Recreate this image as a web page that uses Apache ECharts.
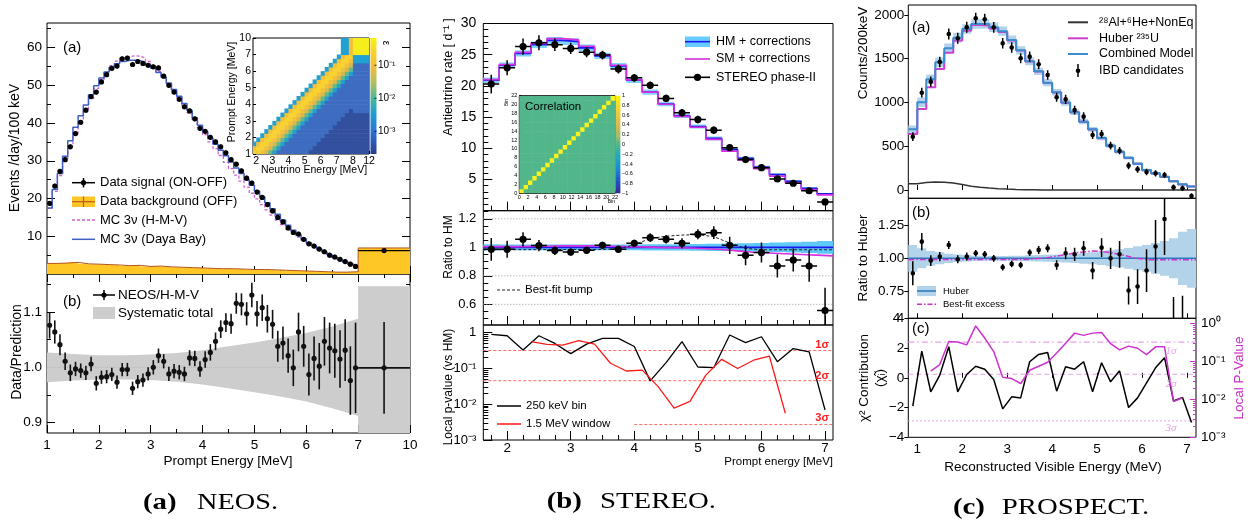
<!DOCTYPE html>
<html><head><meta charset="utf-8"><title>Reactor antineutrino spectra</title>
<script src="https://cdn.jsdelivr.net/npm/echarts@6.0.0/dist/echarts.min.js"></script>
<style>html,body{margin:0;padding:0;background:#fff;}#chart{width:1250px;height:528px;}</style>
</head><body><div id="chart"></div>
<script>
const SANS = '"Liberation Sans", Arial, Helvetica, sans-serif';
const SERIF = '"Liberation Serif", "DejaVu Serif", Times, serif';

/* ======================= NEOS ======================= */
const neosE = [1.05,1.15,1.25,1.35,1.45,1.55,1.65,1.75,1.85,1.95,2.05,2.15,2.25,2.35,2.45,2.55,2.65,2.75,2.85,2.95,3.05,3.15,3.25,3.35,3.45,3.55,3.65,3.75,3.85,3.95,4.05,4.15,4.25,4.35,4.45,4.55,4.65,4.75,4.85,4.95,5.05,5.15,5.25,5.35,5.45,5.55,5.65,5.75,5.85,5.95,6.05,6.15,6.25,6.35,6.45,6.55,6.65,6.75,6.85,6.95];
const neosBinHalf = 0.05;
const neosSignal = [18.7,23.3,27.2,30.3,33.7,37.2,40.2,43.4,47.0,48.2,50.9,52.8,54.5,55.1,57.0,57.2,55.5,56.3,55.8,55.3,54.9,54.6,52.4,50.0,48.2,46.3,44.3,43.2,41.1,38.6,37.8,36.2,35.0,33.7,32.1,30.3,29.1,27.3,25.4,24.1,21.7,20.3,18.4,16.7,15.0,13.8,12.2,11.0,10.6,9.2,8.0,7.4,6.6,5.9,5.0,4.5,3.9,3.3,2.6,2.0];
const neosSigErr = 0.6;
const neosHMV = [17.4,21.9,26.1,30.0,33.8,37.3,40.5,43.6,46.5,49.2,51.5,53.5,55.2,56.4,57.2,57.6,57.8,57.7,57.2,56.3,55.1,53.7,52.1,50.4,48.6,46.7,44.7,42.7,40.7,38.8,36.9,35.0,33.2,31.4,29.6,27.9,26.2,24.6,23.0,21.4,19.9,18.4,17.0,15.6,14.3,13.1,11.9,10.8,9.8,8.9,8.0,7.2,6.4,5.7,5.0,4.4,3.8,3.2,2.7,2.1];
const neosDayaBay = [17.5,22.4,26.6,31.2,35.3,38.9,41.9,44.8,47.5,49.9,51.9,53.5,54.8,55.7,56.3,56.6,56.6,56.5,56.0,55.3,54.5,53.4,52.1,50.6,48.9,47.1,45.2,43.3,41.4,39.4,37.7,36.0,34.4,32.8,31.3,29.7,28.1,26.6,25.0,23.5,22.0,20.4,18.9,17.3,15.8,14.3,12.9,11.6,10.4,9.3,8.3,7.4,6.6,5.8,5.1,4.4,3.8,3.2,2.6,2.1];
const neosBkgEdges = [1.0,1.2,1.4,1.6,1.8,2.0,2.2,2.4,2.6,2.8,3.0,3.2,3.4,3.6,3.8,4.0,4.2,4.4,4.6,4.8,5.0,5.2,5.4,5.6,5.8,6.0,6.2,6.4,6.6,6.8,7.0,10.0];
const neosBkg = [2.8,2.9,3.1,2.7,2.6,2.5,2.4,2.2,2.3,2.0,2.1,1.9,1.8,1.7,1.6,1.5,1.4,1.4,1.3,1.2,1.2,1.1,1.0,0.9,0.8,0.7,0.6,0.5,0.5,0.6,6.9];
const neosLastBin = [7.0, 10.0];
const neosLastSignal = 6.2, neosLastSignalErr = 0.3;
const neosRatio = [1.076,1.064,1.041,1.011,0.990,0.997,0.994,0.990,1.006,0.971,0.982,0.983,0.987,0.973,0.996,0.996,0.962,0.974,0.977,0.988,1.000,1.021,1.011,0.988,0.993,0.991,0.988,1.017,1.016,0.997,1.014,1.027,1.047,1.069,1.081,1.079,1.116,1.114,1.097,1.131,1.097,1.108,1.088,1.078,1.038,1.044,1.021,0.999,1.064,1.038,0.987,1.016,1.002,1.047,1.035,1.030,1.015,1.031,0.976,0.999];
const neosRatioErr = [0.024,0.021,0.019,0.016,0.015,0.013,0.013,0.013,0.013,0.013,0.012,0.012,0.012,0.012,0.012,0.012,0.012,0.012,0.012,0.012,0.013,0.013,0.013,0.013,0.013,0.013,0.013,0.014,0.014,0.014,0.015,0.015,0.016,0.016,0.017,0.018,0.019,0.020,0.021,0.022,0.023,0.024,0.025,0.026,0.028,0.030,0.031,0.033,0.035,0.037,0.038,0.040,0.042,0.044,0.046,0.049,0.052,0.056,0.062,0.082];
const neosLastRatio = 0.999, neosLastRatioErr = 0.083;
const neosSysE = [1.0,1.5,2.0,2.5,3.0,3.5,4.0,4.5,5.0,5.5,6.0,6.5,7.0];
const neosSysHalf = [0.027,0.024,0.022,0.022,0.023,0.026,0.031,0.038,0.045,0.053,0.062,0.074,0.088];
const neosLastSys = [0.853, 1.147];
const neosXTicks = [1,2,3,4,5,6,7,10];
const neosYTicks = [10,20,30,40,50,60];
const neosRatioTicks = [0.9,1.0,1.1];
// inset: detector response (efficiency level code per cell, rows bottom->top)
const neosRespX = [1.75,2.0,2.25,2.5,2.75,3.0,3.25,3.5,3.75,4.0,4.25,4.5,4.75,5.0,5.25,5.5,5.75,6.0,6.25,6.5,6.75,7.0,7.25,7.5,7.75,8.0,12.0];
const neosRespY = [1.0,1.25,1.5,1.75,2.0,2.25,2.5,2.75,3.0,3.25,3.5,3.75,4.0,4.25,4.5,4.75,5.0,5.25,5.5,5.75,6.0,6.25,6.5,6.75,7.0,10.0];
const neosRespRows = [
"77654322222222111111111111",
"67765432222222211111111111",
"36776543222222221111111111",
"03677654322222222111111111",
"00367765432222222211111111",
"00036776543222222221111111",
"00003677654322222222111111",
"00000367765432222222211111",
"00000036776543222222221111",
"00000003677654322222222111",
"00000000367765432222222212",
"00000000036776543222222222",
"00000000003677654322222222",
"00000000000367765432222222",
"00000000000036776543222222",
"00000000000003677654322222",
"00000000000000367765432222",
"00000000000000036776543222",
"00000000000000003677654322",
"00000000000000000367765432",
"00000000000000000036776542",
"00000000000000000003677652",
"00000000000000000000367763",
"00000000000000000000036773",
"00000000000000000000003368"];
const neosRespXTicks = [2,3,4,5,6,7,8,12];
const neosRespYTicks = [1,2,3,4,5,6,7,10];
const neosEffLabels = ['10\u207B\u00B9','10\u207B\u00B2','10\u207B\u00B3'];

/* ======================= STEREO ======================= */
const stE = [1.75,2.0,2.25,2.5,2.75,3.0,3.25,3.5,3.75,4.0,4.25,4.5,4.75,5.0,5.25,5.5,5.75,6.0,6.25,6.5,6.75,7.0];
const stBinHalf = 0.125;
const stData = [20.3,22.9,26.3,26.9,26.6,26.0,25.4,24.95,22.7,21.3,20.1,18.0,15.7,14.6,12.9,10.1,8.2,6.9,5.1,4.4,3.2,1.4];
const stErr = [1.5,1.2,1.3,1.2,1.0,0.9,0.8,0.7,0.7,0.6,0.6,0.6,0.6,0.6,0.6,0.5,0.5,0.4,0.35,0.35,0.3,0.25];
const stHM = [20.9,23.3,25.2,26.6,27.3,27.1,26.1,24.8,23.2,20.9,19.0,17.1,15.2,13.5,11.6,9.8,8.4,7.0,5.8,4.7,3.6,2.7];
const stHMRel = [0.022,0.02,0.02,0.02,0.02,0.02,0.02,0.02,0.02,0.02,0.022,0.022,0.022,0.024,0.025,0.026,0.028,0.03,0.033,0.036,0.04,0.045];
const stSMRatio = [1.005,1.005,1.007,1.008,1.01,1.01,1.01,1.008,1.005,1.003,1.0,0.998,0.995,0.99,0.985,0.975,0.965,0.96,0.955,0.95,0.945,0.94];
const stRatio = [0.986,0.986,1.056,1.012,0.977,0.967,0.979,1.014,0.986,1.028,1.068,1.056,1.028,1.091,1.103,1.014,0.944,0.963,0.869,0.911,0.869,0.556];
const stRatioErr = [0.08,0.06,0.05,0.04,0.03,0.025,0.025,0.025,0.025,0.025,0.03,0.03,0.035,0.035,0.045,0.06,0.07,0.07,0.08,0.08,0.11,0.16];
const stBumpE = [1.625,3.5,3.75,4.0,4.25,4.5,4.75,5.0,5.25,5.5,5.75,6.0,7.125];
const stBumpV = [0.983,0.985,0.99,1.018,1.062,1.078,1.086,1.089,1.075,1.03,0.992,0.983,0.983];
const stPval = [0.90,0.82,0.33,0.82,0.50,0.26,0.48,0.69,0.69,0.41,0.045,0.145,0.56,0.11,0.105,0.86,0.53,0.77,0.155,0.36,0.29,0.0069];
const stWinE = [2.375,2.625,2.875,3.125,3.375,3.625,3.875,4.125,4.375,4.625,4.875,5.125,5.375,5.625,5.875,6.125,6.375];
const stWinP = [0.56,0.47,0.45,0.60,0.48,0.14,0.085,0.09,0.031,0.0078,0.012,0.065,0.18,0.10,0.17,0.22,0.0056];
const stSigmaP = [0.3173,0.0455,0.0027];
const stSigmaStart = [1.625,1.625,4.0];
const stSigmaLabels = ['1\u03C3','2\u03C3','3\u03C3'];
const stXTicks = [2,3,4,5,6,7];
const stYTicks = [5,10,15,20,25,30];
const stRatioTicks = [0.6,0.8,1.0,1.2];
const stPTicks = [0.001,0.01,0.1,1];
const stCorrDiag = [1,1,1,1,1,1,1,1,1,1,1,1,1,1,1,1,1,1,1,1,1,1];
const stCorrOff = 0.0;
const stCorrTicks = [0,2,4,6,8,10,12,14,16,18,20,22];
const stCorrBarLabels = ['1','0.8','0.6','0.4','0.2','0','\u22120.2','\u22120.4','\u22120.6','\u22120.8','\u22121'];

/* ======================= PROSPECT ======================= */
const prE = [0.9,1.1,1.3,1.5,1.7,1.9,2.1,2.3,2.5,2.7,2.9,3.1,3.3,3.5,3.7,3.9,4.1,4.3,4.5,4.7,4.9,5.1,5.3,5.5,5.7,5.9,6.1,6.3,6.5,6.7,6.9,7.1];
const prBinHalf = 0.1;
const prData = [609,1112,1238,1463,1783,1734,1859,1962,1951,1859,1676,1627,1505,1524,1436,1314,1059,1036,914,838,629,640,506,449,278,236,206,190,171,30,19,-69];
const prErr = [50,55,58,60,62,62,63,63,63,62,60,60,58,58,57,55,52,52,50,49,46,46,44,42,40,38,37,36,35,32,32,32];
const prComb = [693,1002,1265,1459,1619,1741,1840,1897,1897,1860,1815,1715,1596,1470,1356,1225,1116,999,888,781,693,593,506,436,367,300,227,190,150,100,65,40];
const prCombBand = [45,55,55,55,55,55,55,55,55,55,52,50,48,45,42,40,37,35,32,30,28,26,24,22,20,18,16,15,14,12,10,10];
const prHuber = [640,926,1174,1383,1569,1707,1821,1886,1880,1845,1805,1709,1593,1468,1355,1224,1115,998,887,780,692,592,505,435,366,299,226,189,149,99,64,39];
const prBkg = [70,85,90,88,80,62,42,30,22,15,10,6,3,2,1,1,0,0,0,0,0,0,0,0,0,0,0,0,0,0,0,0];
const prRatio = [0.888,1.125,0.983,1.013,1.100,0.993,1.013,1.038,1.030,1.000,0.933,0.958,0.950,1.043,1.063,1.075,0.950,1.038,1.030,1.075,0.908,1.080,1.000,1.030,0.758,0.788,0.908,1.088,1.295,0.20,0.10,-0.50];
const prRatioErr = [0.09,0.065,0.04,0.035,0.03,0.03,0.03,0.025,0.025,0.025,0.025,0.025,0.025,0.025,0.03,0.03,0.035,0.045,0.05,0.055,0.065,0.07,0.08,0.1,0.105,0.13,0.16,0.2,0.27,0.51,0.62,0.9];
const prHuberBand = [0.10,0.075,0.055,0.045,0.035,0.028,0.024,0.02,0.018,0.018,0.018,0.019,0.02,0.022,0.024,0.026,0.028,0.032,0.035,0.04,0.045,0.05,0.06,0.068,0.078,0.09,0.10,0.115,0.13,0.15,0.2,0.22];
const prExE = [0.8,3.5,3.9,4.2,4.5,4.9,5.2,5.5,5.8,6.1,7.2];
const prExV = [0.99,0.992,1.005,1.022,1.04,1.055,1.048,1.03,1.005,0.99,0.99];
const prChi = [-1.9,1.79,-0.94,0.18,2.09,-0.94,0.22,0.78,0.58,-0.11,-2.09,-1.28,-1.35,1.08,1.57,1.70,-0.9,0.74,0.58,1.08,-0.94,1.01,-0.27,0.47,-2.0,-1.35,-0.34,0.67,1.35,-1.55,-1.32,-3.0];
const prPE = [1.3,1.5,1.7,1.9,2.1,2.3,2.5,2.7,2.9,3.1,3.3,3.5,3.7,3.9,4.1,4.3,4.5,4.7,4.9,5.1,5.3,5.5,5.7,5.9,6.1,6.3,6.5,6.7,6.9];
const prP = [0.055,0.082,0.33,0.32,0.27,0.85,0.41,0.18,0.038,0.035,0.026,0.058,0.074,0.094,0.165,0.30,0.55,0.48,0.55,0.57,0.29,0.20,0.25,0.22,0.15,0.24,0.24,0.0087,0.011];
const prSigmaP = [0.3173,0.0455,0.0027];
const prSigmaLabels = ['1\u03C3','2\u03C3','3\u03C3'];
const prXTicks = [1,2,3,4,5,6,7];
const prYTicks = [0,500,1000,1500,2000];
const prRatioTicks = [0.75,1.0,1.25];
const prChiTicks = [-4,-2,0,2,4];
const prPTicks = [0.001,0.01,0.1,1];

/* ======================= helpers ======================= */
const SUP = {'-':'\u207B','0':'\u2070','1':'\u00B9','2':'\u00B2','3':'\u00B3'};
const sup = n => String(n).split('').map(c => SUP[c]).join('');
const neosX = e => e <= 7 ? e : 7 + (e - 7) / 3;
const insX = e => e <= 8 ? e : 8 + (e - 8) / 4;
const insY = e => e <= 7 ? e : 7 + (e - 7) / 3;
function rng(a, b, s) { const o = []; const n = Math.round((b - a) / s); for (let i = 0; i <= n; i++) o.push(+(a + i * s).toFixed(4)); return o; }
const notIn = maj => v => !maj.some(m => Math.abs(m - v) < 1e-6);
function logMinor(lo, hi) { const o = []; for (let d = -3; d <= 0; d++) for (let m = 2; m <= 9; m++) { const v = +(m * Math.pow(10, d)).toPrecision(3); if (v > lo && v < hi) o.push(v); } return o; }
function lookupFmt(disp, lab) { return v => { const i = disp.findIndex(d => Math.abs(d - v) < 1e-6); return i >= 0 ? String(lab[i]) : ''; }; }
const edgesOf = (cent, h) => cent.map(c => +(c - h).toFixed(4)).concat([+(cent[cent.length - 1] + h).toFixed(4)]);
function stepData(edges, vals) { const d = vals.map((v, i) => [edges[i], v]); d.push([edges[vals.length], vals[vals.length - 1]]); return d; }
function stepBand(edges, lo, hi) { const xs = [], l = [], h = []; for (let i = 0; i < lo.length; i++) { xs.push(edges[i], edges[i + 1]); l.push(lo[i], lo[i]); h.push(hi[i], hi[i]); } return [xs, l, h]; }

const grids = [], xAxes = [], yAxes = [], S = [], G = [];
function grid(l, t, w, h, bg) { grids.push({ left: l, top: t, width: w, height: h, show: true, borderColor: '#000', borderWidth: 1, backgroundColor: bg || 'transparent', containLabel: false }); return grids.length - 1; }
function ax(list, o) {
  const a = { type: o.type || 'value', gridIndex: o.grid, min: o.min, max: o.max, position: o.pos, scale: true,
    axisLine: { show: false }, splitLine: { show: false },
    axisTick: { show: !!o.ticks, inside: !o.out, length: o.len || 7, lineStyle: { color: o.tc || '#000', width: 1 } },
    axisLabel: { show: !!o.labels, color: o.lc || '#000', fontSize: o.fs || 13, fontFamily: SANS, margin: o.margin == null ? 6 : o.margin,
      showMinLabel: true, showMaxLabel: true, hideOverlap: false, formatter: o.fmt || (v => String(v)) } };
  if (o.ticks) a.axisTick.customValues = o.ticks;
  if (o.labels) a.axisLabel.customValues = o.labels;
  if (o.type === 'log') a.logBase = 10;
  list.push(a); return list.length - 1;
}
function line(xi, yi, data, color, w, type, step, z) {
  const s = { type: 'line', xAxisIndex: xi, yAxisIndex: yi, data, symbol: 'none', showSymbol: false, silent: true, animation: false, clip: true, z: z || 3,
    lineStyle: { color, width: w, type: type || 'solid' } };
  if (step) s.step = 'end';
  return s;
}
function poly(xi, yi, xs, lo, hi, fill, z) {
  return { type: 'custom', xAxisIndex: xi, yAxisIndex: yi, clip: true, silent: true, animation: false, z: z || 1,
    data: [[xs[0], hi[0]]],
    renderItem: (p, api) => { const pts = []; for (let i = 0; i < xs.length; i++) pts.push(api.coord([xs[i], hi[i]])); for (let i = xs.length - 1; i >= 0; i--) pts.push(api.coord([xs[i], lo[i]])); return { type: 'polygon', shape: { points: pts }, style: { fill } }; } };
}
function errS(xi, yi, pts, o) {
  return { type: 'custom', xAxisIndex: xi, yAxisIndex: yi, clip: true, silent: true, animation: false, z: 6, data: pts,
    renderItem: (p, api) => {
      const x = api.value(0), y = api.value(1), ey = api.value(2), ex = api.value(3);
      const c = api.coord([x, y]); const ch = [];
      if (ey > 0) { const t = api.coord([x, y + ey]), b = api.coord([x, y - ey]); ch.push({ type: 'line', shape: { x1: c[0], y1: t[1], x2: c[0], y2: b[1] }, style: { stroke: o.color, lineWidth: o.lw } }); }
      if (ex > 0) { const l = api.coord([x - ex, y]), r = api.coord([x + ex, y]); ch.push({ type: 'line', shape: { x1: l[0], y1: c[1], x2: r[0], y2: c[1] }, style: { stroke: o.color, lineWidth: o.lw } }); }
      ch.push({ type: 'circle', shape: { cx: c[0], cy: c[1], r: o.r }, style: { fill: o.color } });
      return { type: 'group', children: ch };
    } };
}
function cells(xi, yi, data, colorOf) {
  return { type: 'custom', xAxisIndex: xi, yAxisIndex: yi, clip: true, silent: true, animation: false, z: 2, data,
    renderItem: (p, api) => { const a = api.coord([api.value(0), api.value(3)]), b = api.coord([api.value(1), api.value(2)]);
      return { type: 'rect', shape: { x: a[0], y: a[1], width: b[0] - a[0] + 0.5, height: b[1] - a[1] + 0.5 }, style: { fill: colorOf(api.value(4)) } }; } };
}
function T(x, y, text, o = {}) {
  G.push({ type: 'text', x, y, rotation: o.rot || 0, scaleX: o.sx || 1, z: 60, silent: true,
    style: { text, fill: o.color || '#000', font: (o.style || 'normal') + ' ' + (o.weight || 'normal') + ' ' + (o.fs || 13) + 'px ' + (o.family || SANS),
      textAlign: o.align || 'left', align: o.align || 'left', textVerticalAlign: o.va || 'middle', verticalAlign: o.va || 'middle' } });
}
function Ln(x1, y1, x2, y2, color, w, dash) { G.push({ type: 'line', z: 60, silent: true, shape: { x1, y1, x2, y2 }, style: { stroke: color, lineWidth: w || 1, lineDash: dash || null } }); }
function Rc(x, y, w, h, fill, z) { G.push({ type: 'rect', z: z || 59, silent: true, shape: { x, y, width: w, height: h }, style: { fill } }); }
function Ci(cx, cy, r, fill) { G.push({ type: 'circle', z: 61, silent: true, shape: { cx, cy, r }, style: { fill } }); }

/* ======================= NEOS panels ======================= */
const gN0 = grid(47, 23, 363, 251), gN1 = grid(47, 274, 363, 159), gN2 = grid(253, 38, 116, 116, '#fff');
const nXd = neosXTicks.map(neosX), nXm = rng(1.5, 7.5, 1);
const nXfmt = lookupFmt(nXd, neosXTicks);
const xN0 = ax(xAxes, { grid: gN0, min: 1, max: 8, pos: 'bottom', ticks: nXd, len: 8 });
ax(xAxes, { grid: gN0, min: 1, max: 8, pos: 'bottom', ticks: nXm, len: 4 });
ax(xAxes, { grid: gN0, min: 1, max: 8, pos: 'top', ticks: nXd, len: 8 });
ax(xAxes, { grid: gN0, min: 1, max: 8, pos: 'top', ticks: nXm, len: 4 });
const yN0 = ax(yAxes, { grid: gN0, min: 0, max: 66.5, pos: 'left', ticks: neosYTicks, labels: neosYTicks, len: 8, fs: 13.5, margin: 5 });
ax(yAxes, { grid: gN0, min: 0, max: 66.5, pos: 'left', ticks: rng(5, 65, 10), len: 4 });
ax(yAxes, { grid: gN0, min: 0, max: 66.5, pos: 'right', ticks: neosYTicks, len: 8 });
ax(yAxes, { grid: gN0, min: 0, max: 66.5, pos: 'right', ticks: rng(5, 65, 10), len: 4 });
const xN1 = ax(xAxes, { grid: gN1, min: 1, max: 8, pos: 'bottom', ticks: nXd, labels: nXd, fmt: nXfmt, len: 8, fs: 13.5, margin: 5 });
ax(xAxes, { grid: gN1, min: 1, max: 8, pos: 'bottom', ticks: nXm, len: 4 });
ax(xAxes, { grid: gN1, min: 1, max: 8, pos: 'top', ticks: nXd, len: 8 });
ax(xAxes, { grid: gN1, min: 1, max: 8, pos: 'top', ticks: nXm, len: 4 });
const yN1 = ax(yAxes, { grid: gN1, min: 0.881, max: 1.169, pos: 'left', ticks: neosRatioTicks, labels: neosRatioTicks, fmt: v => v.toFixed(1), len: 8, fs: 13.5, margin: 5 });
ax(yAxes, { grid: gN1, min: 0.881, max: 1.169, pos: 'left', ticks: [0.95, 1.05, 1.15], len: 4 });
ax(yAxes, { grid: gN1, min: 0.881, max: 1.169, pos: 'right', ticks: neosRatioTicks, len: 8 });
ax(yAxes, { grid: gN1, min: 0.881, max: 1.169, pos: 'right', ticks: [0.95, 1.05, 1.15], len: 4 });
const iXd = neosRespXTicks.map(insX), iYd = neosRespYTicks.map(insY);
const xN2 = ax(xAxes, { grid: gN2, min: 1.8, max: 9, pos: 'bottom', ticks: iXd, labels: iXd, fmt: lookupFmt(iXd, neosRespXTicks), len: 3, fs: 10.5, margin: 2 });
const yN2 = ax(yAxes, { grid: gN2, min: 1, max: 8, pos: 'left', ticks: iYd, labels: iYd, fmt: lookupFmt(iYd, neosRespYTicks), len: 3, fs: 10.5, margin: 2 });

{
  const ed = neosBkgEdges.map(neosX);
  const [bx, bl, bh] = stepBand(ed, neosBkg.map(() => 0), neosBkg);
  S.push(poly(xN0, yN0, bx, bl, bh, '#ffc726', 1));
  S.push(line(xN0, yN0, stepData(ed, neosBkg), '#b5561f', 1, 'solid', true, 2));
}
const neosEdges = edgesOf(neosE, neosBinHalf);
S.push(line(xN0, yN0, stepData(neosEdges, neosHMV), '#d35fcf', 1.3, [3, 2], true, 3));
S.push(line(xN0, yN0, stepData(neosEdges, neosDayaBay), '#3f5fc4', 1.5, 'solid', true, 4));
{
  const pts = neosE.map((e, i) => [e, neosSignal[i], neosSigErr, 0]);
  const c = neosX((neosLastBin[0] + neosLastBin[1]) / 2), hw = (neosX(neosLastBin[1]) - neosX(neosLastBin[0])) / 2;
  pts.push([c, neosLastSignal, neosLastSignalErr, hw]);
  S.push(errS(xN0, yN0, pts, { color: '#000', lw: 1.3, r: 2.6 }));
}
S.push(poly(xN1, yN1, neosSysE, neosSysHalf.map(h => 1 - h), neosSysHalf.map(h => 1 + h), '#cdcdcd', 1));
S.push(poly(xN1, yN1, [neosX(neosLastBin[0]), neosX(neosLastBin[1])], [neosLastSys[0], neosLastSys[0]], [neosLastSys[1], neosLastSys[1]], '#cdcdcd', 1));
S.push(line(xN1, yN1, [[1, 1], [8, 1]], '#d8a8c0', 1, 'dotted', false, 2));
{
  const pts = neosE.map((e, i) => [e, neosRatio[i], neosRatioErr[i], 0]);
  const c = neosX((neosLastBin[0] + neosLastBin[1]) / 2), hw = (neosX(neosLastBin[1]) - neosX(neosLastBin[0])) / 2;
  pts.push([c, neosLastRatio, neosLastRatioErr, hw]);
  S.push(errS(xN1, yN1, pts, { color: '#111', lw: 1.6, r: 2.6 }));
}
{
  const lvlColor = { 1: '#33509f', 2: '#3d6cc0', 3: '#21a0d2', 4: '#62ba8a', 5: '#d9b84c', 6: '#f3bf3e', 7: '#f8d22e', 8: '#f6ee1c' };
  const data = [];
  neosRespRows.forEach((row, r) => { for (let c = 0; c < row.length && c < neosRespX.length - 1; c++) { const lv = +row[c]; if (lv > 0) data.push([insX(neosRespX[c]), insX(neosRespX[c + 1]), insY(neosRespY[r]), insY(neosRespY[r + 1]), lv]); } });
  S.push(cells(xN2, yN2, data, v => lvlColor[v]));
}

/* ======================= STEREO panels ======================= */
const sx0 = 483.3, sw = 349.7;
const gS0 = grid(sx0, 23.5, sw, 187.2), gS1 = grid(sx0, 210.7, sw, 114.3), gS2 = grid(sx0, 325, sw, 115), gS3 = grid(519.3, 95.7, 95.7, 97.6, '#fff');
const sXm = rng(1.75, 7.0, 0.25).filter(notIn(stXTicks));
function stX(g, lab) { const i = ax(xAxes, { grid: g, min: 1.625, max: 7.125, pos: 'bottom', ticks: stXTicks, labels: lab ? stXTicks : null, len: 9, fs: 13.5, margin: 1 }); ax(xAxes, { grid: g, min: 1.625, max: 7.125, pos: 'bottom', ticks: sXm, len: 5 }); return i; }
const xS0 = stX(gS0, false), xS1 = stX(gS1, false), xS2 = stX(gS2, true);
const yS0 = ax(yAxes, { grid: gS0, min: 0, max: 30, pos: 'left', ticks: stYTicks, labels: stYTicks, len: 9, fs: 14, margin: 7 });
ax(yAxes, { grid: gS0, min: 0, max: 30, pos: 'left', ticks: rng(1, 29, 1).filter(notIn(stYTicks)), len: 5 });
const yS1 = ax(yAxes, { grid: gS1, min: 0.455, max: 1.257, pos: 'left', ticks: stRatioTicks, labels: stRatioTicks, fmt: v => (Math.abs(v - 1) < 1e-6 ? '1' : v.toFixed(1)), len: 9, fs: 13, margin: 7 });
ax(yAxes, { grid: gS1, min: 0.455, max: 1.257, pos: 'left', ticks: rng(0.5, 1.25, 0.05).filter(notIn(stRatioTicks)), len: 5 });
const yS2 = ax(yAxes, { type: 'log', grid: gS2, min: 0.001, max: 1.64, pos: 'left', ticks: stPTicks, labels: stPTicks, fmt: v => { const k = Math.round(Math.log10(v)); return k === 0 ? '1' : '10' + sup(k); }, len: 9, fs: 13, margin: 7 });
ax(yAxes, { type: 'log', grid: gS2, min: 0.001, max: 1.64, pos: 'left', ticks: logMinor(0.001, 1.64), len: 5 });
const xS3 = ax(xAxes, { grid: gS3, min: 0, max: 22, pos: 'bottom', ticks: stCorrTicks, labels: stCorrTicks, len: 2, fs: 5.5, margin: 1 });
const yS3 = ax(yAxes, { grid: gS3, min: 0, max: 22, pos: 'left', ticks: stCorrTicks, labels: stCorrTicks, len: 2, fs: 5.5, margin: 2 });

const stEdges = edgesOf(stE, stBinHalf);
{
  const [bx, bl, bh] = stepBand(stEdges, stHM.map((v, i) => v * (1 - stHMRel[i])), stHM.map((v, i) => v * (1 + stHMRel[i])));
  S.push(poly(xS0, yS0, bx, bl, bh, '#7fd3fb', 1));
}
S.push(line(xS0, yS0, stepData(stEdges, stHM), '#1a1aee', 1.6, 'solid', true, 3));
S.push(line(xS0, yS0, stepData(stEdges, stHM.map((v, i) => v * stSMRatio[i])), '#d62ee0', 1.6, 'solid', true, 4));
S.push(errS(xS0, yS0, stE.map((e, i) => [e, stData[i], stErr[i], stBinHalf]), { color: '#000', lw: 1.5, r: 3.6 }));
stRatioTicks.forEach(v => S.push(line(xS1, yS1, [[1.625, v], [7.125, v]], '#9a9a9a', 1, [1, 2], false, 1)));
{
  const [bx, bl, bh] = stepBand(stEdges, stHMRel.map(r => 1 - r), stHMRel.map(r => 1 + r));
  S.push(poly(xS1, yS1, bx, bl, bh, '#5ec8f7', 1));
}
S.push(line(xS1, yS1, [[1.625, 1], [7.125, 1]], '#1a1aee', 1.6, 'solid', false, 3));
S.push(line(xS1, yS1, stepData(stEdges, stSMRatio), '#d62ee0', 1.6, 'solid', true, 4));
S.push(line(xS1, yS1, stBumpE.map((e, i) => [e, stBumpV[i]]), '#222', 1, [3, 2], false, 4));
S.push(errS(xS1, yS1, stE.map((e, i) => [e, stRatio[i], stRatioErr[i], stBinHalf]), { color: '#000', lw: 1.5, r: 3.6 }));
stSigmaP.forEach((p, i) => S.push(line(xS2, yS2, [[stSigmaStart[i], p], [7.125, p]], '#ff6a6a', 1, [3, 2], false, 2)));
S.push(line(xS2, yS2, stE.map((e, i) => [e, stPval[i]]), '#000', 1.3, 'solid', false, 4));
S.push(line(xS2, yS2, stWinE.map((e, i) => [e, stWinP[i]]), '#ff1a1a', 1.3, 'solid', false, 4));
{
  const data = [];
  for (let i = 0; i < stCorrDiag.length; i++) for (let j = 0; j < stCorrDiag.length; j++) data.push([i, i + 1, j, j + 1, i === j ? stCorrDiag[i] : stCorrOff]);
  S.push(cells(xS3, yS3, data, v => (v > 0.9 ? '#f8f21c' : '#52b68b')));
}

/* ======================= PROSPECT panels ======================= */
const px0 = 908.3, pw = 287.7;
const gP0 = grid(px0, 5, pw, 193.3), gP1 = grid(px0, 198.3, pw, 120), gP2 = grid(px0, 318.3, pw, 119);
function prX(g, lab) { return ax(xAxes, { grid: g, min: 0.8, max: 7.2, pos: 'bottom', ticks: prXTicks, labels: lab ? prXTicks : null, len: 5, fs: 13.5, margin: 5 }); }
const xP0 = prX(gP0, false), xP1 = prX(gP1, false), xP2 = prX(gP2, true);
const yP0 = ax(yAxes, { grid: gP0, min: -95, max: 2114, pos: 'left', ticks: prYTicks, labels: prYTicks, fmt: v => String(v), out: true, len: 4, fs: 13.5, margin: 4 });
const yP1 = ax(yAxes, { grid: gP1, min: 0.55, max: 1.45, pos: 'left', ticks: prRatioTicks, labels: prRatioTicks, fmt: v => v.toFixed(2), out: true, len: 4, fs: 13.5, margin: 4 });
const chiFmt = v => (v < 0 ? '\u2212' + Math.abs(v) : String(v));
const yP2 = ax(yAxes, { grid: gP2, min: -4, max: 4, pos: 'left', ticks: prChiTicks, labels: prChiTicks, fmt: chiFmt, out: true, len: 4, fs: 13.5, margin: 4 });
const yP2r = ax(yAxes, { type: 'log', grid: gP2, min: 0.001, max: 1.35, pos: 'right', ticks: prPTicks, labels: prPTicks, fmt: v => '10' + sup(Math.round(Math.log10(v))), len: 6, tc: '#cc33cc', fs: 13.5, margin: 5 });
ax(yAxes, { type: 'log', grid: gP2, min: 0.001, max: 1.35, pos: 'right', ticks: logMinor(0.001, 1.35), len: 3, tc: '#cc33cc' });

const prEdges = edgesOf(prE, prBinHalf);
{
  const [bx, bl, bh] = stepBand(prEdges, prComb.map((v, i) => v - prCombBand[i]), prComb.map((v, i) => v + prCombBand[i]));
  S.push(poly(xP0, yP0, bx, bl, bh, '#b3d3ea', 1));
}
S.push(line(xP0, yP0, stepData(prEdges, prHuber), '#cf3fcf', 2, 'solid', true, 3));
S.push(line(xP0, yP0, stepData(prEdges, prComb), '#3a8ccc', 2, 'solid', true, 4));
S.push(line(xP0, yP0, stepData(prEdges, prBkg), '#333', 1.5, 'solid', true, 4));
S.push(errS(xP0, yP0, prE.map((e, i) => [e, prData[i], prErr[i], 0]), { color: '#000', lw: 1.5, r: 2.3 }));
{
  const [bx, bl, bh] = stepBand(prEdges, prHuberBand.map(h => 1 - h), prHuberBand.map(h => 1 + h));
  S.push(poly(xP1, yP1, bx, bl, bh, '#b3d3ea', 1));
}
S.push(line(xP1, yP1, [[0.8, 1], [7.2, 1]], '#2b7bbd', 1.6, 'solid', false, 3));
S.push(line(xP1, yP1, prExE.map((e, i) => [e, prExV[i]]), '#cc33cc', 1.5, [6, 2, 1.5, 2], false, 4));
S.push(errS(xP1, yP1, prE.map((e, i) => [e, prRatio[i], prRatioErr[i], 0]), { color: '#000', lw: 1.5, r: 2.3 }));
const prSigDash = [[6, 3, 1.5, 3], [5, 3], [1.5, 2.5]];
prSigmaP.forEach((p, i) => S.push(line(xP2, yP2r, [[0.8, p], [7.2, p]], '#e7a3e7', 1.2, prSigDash[i], false, 2)));
S.push(line(xP2, yP2, prE.map((e, i) => [e, prChi[i]]), '#000', 1.5, 'solid', false, 4));
S.push(line(xP2, yP2r, prPE.map((e, i) => [e, prP[i]]), '#cc33cc', 1.5, 'solid', false, 5));

/* ======================= text & legends ======================= */
const ROT = Math.PI / 2;
// NEOS
T(15, 148, 'Events /day/100 keV', { rot: ROT, align: 'center', fs: 14 });
T(17, 352, 'Data/Prediction', { rot: ROT, align: 'center', fs: 14 });
T(228, 461, 'Prompt Energy [MeV]', { align: 'center', fs: 13.5 });
T(63, 48, '(a)', { fs: 15 });
T(63, 302, '(b)', { fs: 15 });
Ln(72, 182.7, 95, 182.7, '#000', 1.5); Ln(83.5, 178, 83.5, 187.5, '#000', 1.5); Ci(83.5, 182.7, 2.6, '#000');
T(100, 182.7, 'Data signal (ON-OFF)', { fs: 13 });
Rc(72, 196.5, 23, 10.5, '#ffc726'); Ln(72, 201.7, 95, 201.7, '#c0571f', 1.2); Ln(83.5, 196.5, 83.5, 207, '#c0571f', 1.2);
T(100, 201.7, 'Data background (OFF)', { fs: 13 });
Ln(72, 220, 95, 220, '#d35fcf', 1.3, [3, 2]);
T(100, 220, 'MC 3\u03BD (H-M-V)', { fs: 13 });
Ln(72, 239.3, 95, 239.3, '#3f5fc4', 1.5);
T(100, 239.3, 'MC 3\u03BD (Daya Bay)', { fs: 13 });
Ln(93, 295, 115, 295, '#000', 1.5); Ln(104, 290, 104, 300, '#000', 1.5); Ci(104, 295, 2.6, '#000');
T(118, 295, 'NEOS/H-M-V', { fs: 13.5 });
Rc(93, 307, 22, 12, '#cdcdcd');
T(118, 313, 'Systematic total', { fs: 13.5 });
T(232, 92, 'Prompt Energy [MeV]', { rot: ROT, align: 'center', fs: 10.5 });
T(314, 170, 'Neutrino Energy [MeV]', { align: 'center', fs: 10.5 });
G.push({ type: 'rect', z: 59, silent: true, shape: { x: 370.5, y: 38, width: 6, height: 116 }, style: { fill: { type: 'linear', x: 0, y: 0, x2: 0, y2: 1, colorStops: [
  { offset: 0, color: '#f8f40e' }, { offset: 0.12, color: '#f8d22e' }, { offset: 0.25, color: '#efbd40' }, { offset: 0.4, color: '#a9bf63' },
  { offset: 0.52, color: '#4fb59a' }, { offset: 0.65, color: '#1f9fd0' }, { offset: 0.8, color: '#2d74d2' }, { offset: 1, color: '#2b3c8e' }] } } });
[0.235, 0.52, 0.805].forEach((f, i) => { Ln(374.5, 38 + f * 116, 376.5, 38 + f * 116, '#000', 0.8); T(378, 38 + f * 116, neosEffLabels[i], { fs: 10 }); });
T(386, 43, '\u03B5', { rot: -ROT, align: 'center', fs: 10 });
T(143, 503, '(a)', { weight: 'bold', fs: 24, family: SERIF, sx: 1.2 });
T(197, 503, 'NEOS.', { fs: 24, family: SERIF, sx: 1.18 });

// STEREO
T(449, 77, 'Antieutrino rate [ d\u207B\u00B9 ]', { rot: ROT, align: 'center', fs: 12.5 });
T(449, 247, 'Ratio to HM', { rot: ROT, align: 'center', fs: 12 });
T(449, 387, 'Local p-value (vs HM)', { rot: ROT, align: 'center', fs: 12 });
T(833, 462, 'Prompt energy [MeV]', { align: 'right', fs: 11.5 });
Rc(685, 36.5, 25, 10.5, '#66ccff'); Ln(685, 41.7, 710, 41.7, '#1a1aee', 1.6);
T(716, 41.7, 'HM + corrections', { fs: 12.5 });
Ln(685, 59, 710, 59, '#d62ee0', 1.6);
T(716, 59, 'SM + corrections', { fs: 12.5 });
Ln(685, 77.3, 710, 77.3, '#000', 1.6); Ci(697.5, 77.3, 3.6, '#000');
T(716, 77.3, 'STEREO phase-II', { fs: 12.5 });
Ln(497, 290, 521, 290, '#222', 1, [3, 2]);
T(525, 290, 'Best-fit bump', { fs: 11.5 });
Ln(497, 406, 521, 406, '#000', 1.5);
T(526, 406, '250 keV bin', { fs: 11.5 });
Ln(497, 424, 521, 424, '#ff1a1a', 1.5);
T(526, 424, '1.5 MeV window', { fs: 11.5 });
[345, 375.7, 418.3].forEach((y, i) => T(829, y, stSigmaLabels[i], { fs: 11, weight: 'bold', color: '#ff2020', align: 'right' }));
T(525, 107, 'Correlation', { fs: 11.5 });
T(507, 99, 'Bin', { rot: ROT, align: 'right', fs: 5 });
T(615, 202, 'Bin', { align: 'right', fs: 5 });
G.push({ type: 'rect', z: 59, silent: true, shape: { x: 615.8, y: 95.7, width: 4.6, height: 97.6 }, style: { fill: { type: 'linear', x: 0, y: 0, x2: 0, y2: 1, colorStops: [
  { offset: 0, color: '#f8f40e' }, { offset: 0.15, color: '#f1cf38' }, { offset: 0.3, color: '#d7ba4e' }, { offset: 0.42, color: '#9ebd6a' },
  { offset: 0.5, color: '#52b68b' }, { offset: 0.62, color: '#23a8b9' }, { offset: 0.75, color: '#1a8ad2' }, { offset: 0.88, color: '#2352c6' }, { offset: 1, color: '#35288a' }] } } });
stCorrBarLabels.forEach((t, i) => T(622, 95.7 + i * 97.6 / 10, t, { fs: 5.5 }));
T(546.7, 501.7, '(b)', { weight: 'bold', fs: 24, family: SERIF, sx: 1.2 });
T(600, 501.7, 'STEREO.', { fs: 24, family: SERIF, sx: 1.2 });

// PROSPECT
T(863, 53, 'Counts/200keV', { rot: ROT, align: 'center', fs: 13.5 });
T(863, 258, 'Ratio to Huber', { rot: ROT, align: 'center', fs: 13.5 });
T(864, 378, '\u03C7\u00B2 Contribution', { rot: ROT, align: 'center', fs: 13.5 });
T(880, 378, '(\u03C7\u0303\u1D62)', { rot: ROT, align: 'center', fs: 13.5 });
T(1239, 378, 'Local P-Value', { rot: ROT, align: 'center', fs: 13.5, color: '#cc33cc' });
T(1053, 467, 'Reconstructed Visible Energy (MeV)', { align: 'center', fs: 13.5 });
// top tick label of the chi2 axis (the axis drops the label sitting on the panel edge)
T(900.3, 318.3, chiFmt(prChiTicks[prChiTicks.length - 1]), { align: 'right', fs: 13.5 });
T(912, 28, '(a)', { fs: 15 });
T(912, 213, '(b)', { fs: 15 });
T(912, 329, '(c)', { fs: 15 });
Ln(1068, 22.3, 1088, 22.3, '#333', 2);
T(1099, 22.3, '\u00B2\u2078Al+\u2076He+NonEq', { fs: 12.5 });
Ln(1068, 38.3, 1088, 38.3, '#cf3fcf', 2);
T(1099, 38.3, 'Huber \u00B2\u00B3\u2075U', { fs: 12.5 });
Ln(1068, 54, 1088, 54, '#3a8ccc', 2);
T(1099, 54, 'Combined Model', { fs: 12.5 });
Ln(1078, 64, 1078, 77, '#000', 1.5); Ci(1078, 70.7, 2.3, '#000');
T(1099, 70.7, 'IBD candidates', { fs: 12.5 });
Rc(917, 286, 19, 10, '#b3d3ea'); Ln(917, 291, 936, 291, '#2b7bbd', 1.6);
T(943, 291, 'Huber', { fs: 9.5 });
Ln(917, 304.3, 936, 304.3, '#cc33cc', 1.5, [5, 2, 1.5, 2]);
T(943, 304.3, 'Best-fit excess', { fs: 9.5 });
[351.5, 384, 428.3].forEach((y, i) => T(1171, y, prSigmaLabels[i], { fs: 11, style: 'italic', family: SERIF, color: '#e7a3e7', align: 'center' }));
T(953, 508, '(c)', { weight: 'bold', fs: 24, family: SERIF, sx: 1.2 });
T(1001.7, 508, 'PROSPECT.', { fs: 24, family: SERIF, sx: 1.2 });

const chart = echarts.init(document.getElementById('chart'), null, { renderer: 'canvas' });
chart.setOption({ animation: false, backgroundColor: '#fff', grid: grids, xAxis: xAxes, yAxis: yAxes, series: S, graphic: { elements: G } });
</script></body></html>
